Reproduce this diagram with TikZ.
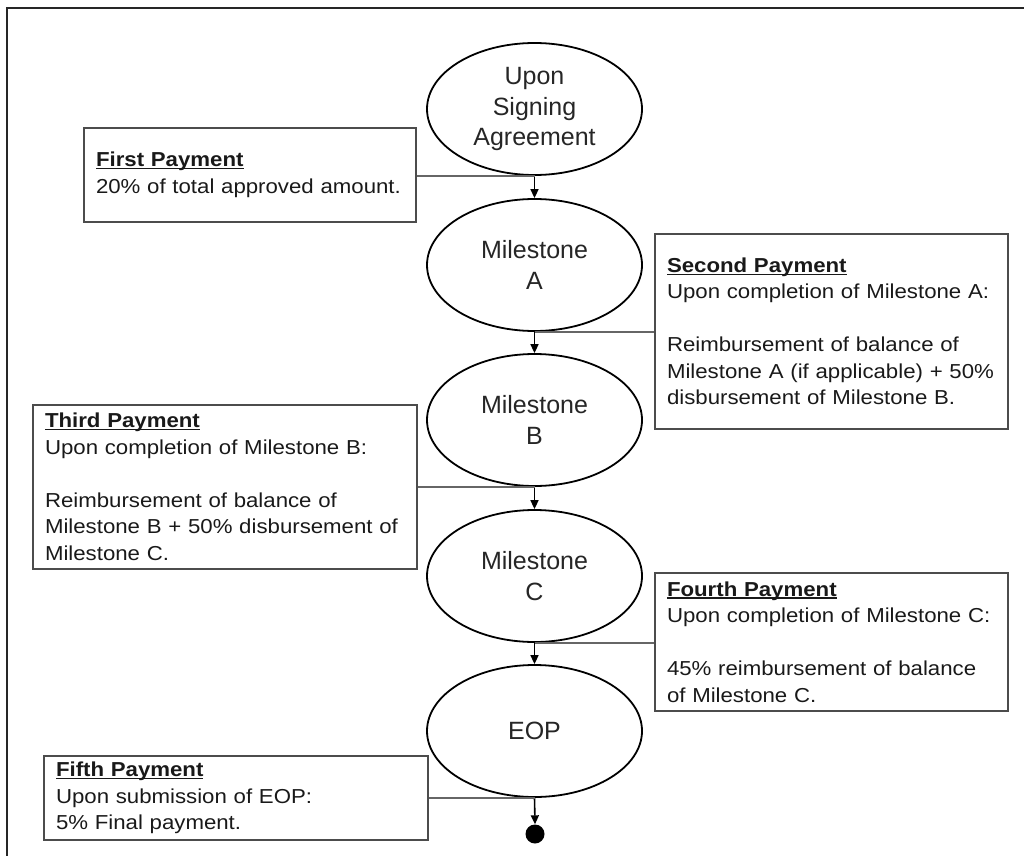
\documentclass[tikz,border=0pt]{standalone}
\usepackage{fontspec}
\setmainfont{Liberation Sans}
\newfontfamily\boxfont[FakeStretch=1.1]{Liberation Sans}
\usetikzlibrary{arrows.meta,shapes.geometric}
\newcommand\payhead[1]{\setbox0\hbox{\bfseries #1}\rlap{\rule[-2.4pt]{\wd0}{1.3pt}}\box0}
\begin{document}
\begin{tikzpicture}[x=1pt,y=-1pt,
  milestone/.style={ellipse, draw=black, line width=1.8pt, minimum width=215pt,
    minimum height=132pt, inner sep=0pt, align=center,
    font=\fontsize{25}{30.5}\selectfont, text=black!85},
  paybox/.style={rectangle, draw=black!70, line width=1.2pt, align=left,
    inner xsep=12pt, inner ysep=0pt,
    font=\boxfont\fontsize{20.2}{26.5}\selectfont, text=black!90},
  link/.style={draw=black!60, line width=1.2pt},
  flow/.style={draw=black, line width=1.6pt, -{Triangle[length=9pt,width=8pt]}},
  enddot/.style={circle, fill=black, minimum size=19pt, inner sep=0pt},
  frameline/.style={draw=black!85, line width=1.8pt}]
\useasboundingbox (0,0) rectangle (1024,856);
\draw[frameline] (1024,8) -- (7,8) -- (7,856);

% milestones
\node[milestone] (sig) at (534.5,109) {Upon\\Signing\\Agreement};
\node[milestone] (A) at (534.5,265) {Milestone\\A};
\node[milestone] (B) at (534.5,420) {Milestone\\B};
\node[milestone] (C) at (534.5,576) {Milestone\\C};
\node[milestone] (E) at (534.5,731) {EOP};
\node[enddot] (end) at (535,834) {};

% payment boxes
\node[paybox, minimum width=332pt, minimum height=94pt, text width=308pt] (p1) at (250,175)
  {\payhead{First Payment}\\20\% of total approved amount.};
\node[paybox, minimum width=353pt, minimum height=195pt, text width=329pt] (p2) at (831.5,331.5)
  {\payhead{Second Payment}\\Upon completion of Milestone A:\\[26.5pt]Reimbursement of balance of\\Milestone A (if applicable) + 50\%\\disbursement of Milestone B.};
\node[paybox, minimum width=384pt, minimum height=164pt, text width=360pt] (p3) at (225,487)
  {\payhead{Third Payment}\\Upon completion of Milestone B:\\[26.5pt]Reimbursement of balance of\\Milestone B + 50\% disbursement of\\Milestone C.};
\node[paybox, minimum width=353pt, minimum height=138pt, text width=329pt] (p4) at (831.5,642)
  {\payhead{Fourth Payment}\\Upon completion of Milestone C:\\[26.5pt]45\% reimbursement of balance\\of Milestone C.};
\node[paybox, minimum width=384pt, minimum height=84pt, text width=360pt] (p5) at (236,798)
  {\payhead{Fifth Payment}\\Upon submission of EOP:\\5\% Final payment.};

% flow arrows
\draw[flow] (sig.south) -- (A.north);
\draw[flow] (A.south) -- (B.north);
\draw[flow] (B.south) -- (C.north);
\draw[flow] (C.south) -- (E.north);
\draw[flow] (E.south) -- (end.north);

% connectors from boxes
\draw[link] (p1.east |- sig.south) -- (sig.south);
\draw[link] (A.south) -- (p2.west |- A.south);
\draw[link] (p3.east |- B.south) -- (B.south);
\draw[link] (C.south) -- (p4.west |- C.south);
\draw[link] (p5.east |- E.south) -- (E.south);
\end{tikzpicture}
\end{document}
